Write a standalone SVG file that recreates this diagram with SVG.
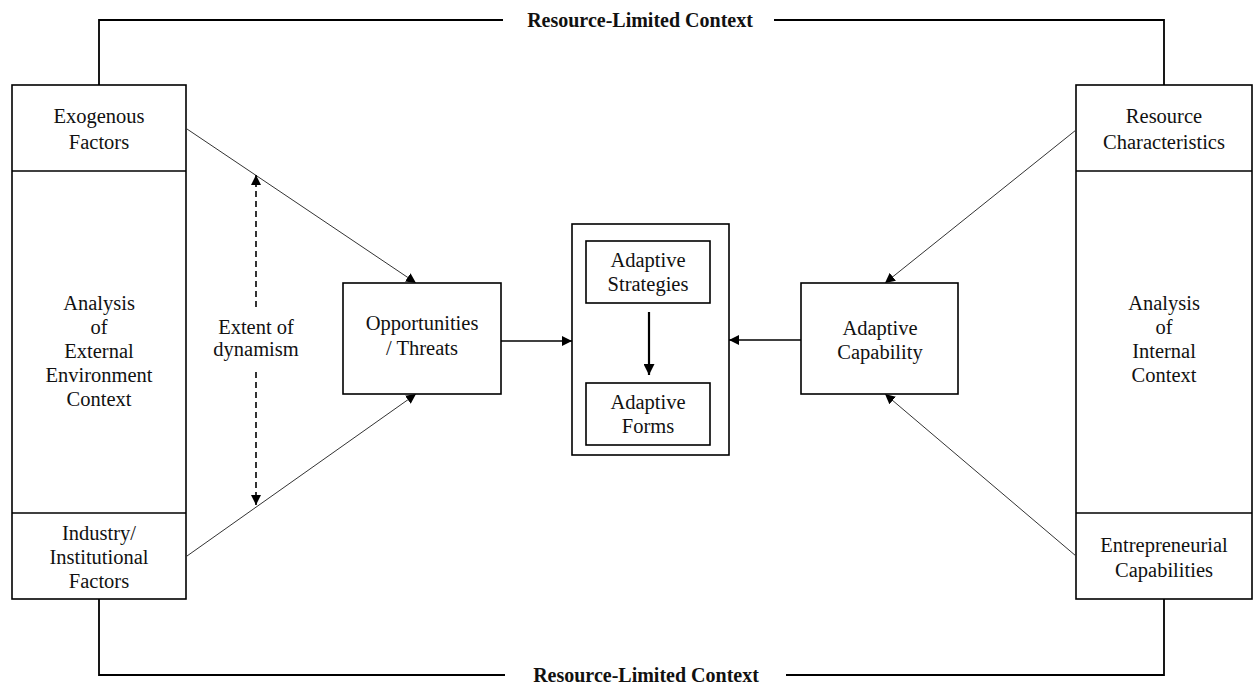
<svg xmlns="http://www.w3.org/2000/svg" width="1256" height="684" viewBox="0 0 1256 684">
  <style>
    .box { fill: #ffffff; stroke: #000000; stroke-width: 1.6; }
    .div { stroke: #000000; stroke-width: 1.6; fill: none; }
    .lbl { font-family: "Liberation Serif", "Times New Roman", serif; font-size: 20.5px; fill: #111111; text-anchor: middle; }
    .title { font-family: "Liberation Serif", "Times New Roman", serif; font-size: 20px; font-weight: bold; fill: #111111; text-anchor: middle; }
    .bracket { stroke: #000000; stroke-width: 1.8; fill: none; }
    .thin { stroke: #333333; stroke-width: 1; fill: none; }
    .flow { stroke: #000000; stroke-width: 1.5; fill: none; }
    .bold { stroke: #000000; stroke-width: 2.2; fill: none; }
    .dash { stroke: #000000; stroke-width: 1.6; fill: none; stroke-dasharray: 6 4; }
  </style>
  <defs>
    <marker id="arrow" viewBox="0 0 10 10" refX="10" refY="5" markerWidth="10" markerHeight="10" markerUnits="userSpaceOnUse" orient="auto">
      <path d="M0,0 L10,5 L0,10 z" fill="#000000"/>
    </marker>
    <marker id="arrowBig" viewBox="0 0 10 10" refX="10" refY="5" markerWidth="11" markerHeight="11" markerUnits="userSpaceOnUse" orient="auto">
      <path d="M0,0 L10,5 L0,10 z" fill="#000000"/>
    </marker>
  </defs>

  <!-- Resource-limited context brackets -->
  <g id="context-brackets">
    <path class="bracket" d="M99,85 V20 H503 M774,20 H1164 V85"/>
    <text class="title" x="640" y="27">Resource-Limited Context</text>
    <path class="bracket" d="M99,599 V675 H505 M786,675 H1164 V599"/>
    <text class="title" x="646" y="682">Resource-Limited Context</text>
  </g>

  <!-- External environment column -->
  <g id="external-column">
    <rect class="box" x="12" y="85" width="174" height="514"/>
    <line class="div" x1="12" y1="171" x2="186" y2="171"/>
    <line class="div" x1="12" y1="513" x2="186" y2="513"/>
  </g>
  <g id="exogenous-factors">
    <text class="lbl" x="99" y="123">Exogenous</text>
    <text class="lbl" x="99" y="149">Factors</text>
  </g>
  <g id="external-analysis">
    <text class="lbl" x="99" y="310">Analysis</text>
    <text class="lbl" x="99" y="334">of</text>
    <text class="lbl" x="99" y="358">External</text>
    <text class="lbl" x="99" y="382">Environment</text>
    <text class="lbl" x="99" y="406">Context</text>
  </g>
  <g id="industry-factors">
    <text class="lbl" x="99" y="540">Industry/</text>
    <text class="lbl" x="99" y="564">Institutional</text>
    <text class="lbl" x="99" y="588">Factors</text>
  </g>

  <!-- Internal context column -->
  <g id="internal-column">
    <rect class="box" x="1076" y="85" width="176" height="514"/>
    <line class="div" x1="1076" y1="171" x2="1252" y2="171"/>
    <line class="div" x1="1076" y1="513" x2="1252" y2="513"/>
  </g>
  <g id="resource-characteristics">
    <text class="lbl" x="1164" y="123">Resource</text>
    <text class="lbl" x="1164" y="149">Characteristics</text>
  </g>
  <g id="internal-analysis">
    <text class="lbl" x="1164" y="310">Analysis</text>
    <text class="lbl" x="1164" y="334">of</text>
    <text class="lbl" x="1164" y="358">Internal</text>
    <text class="lbl" x="1164" y="382">Context</text>
  </g>
  <g id="entrepreneurial-capabilities">
    <text class="lbl" x="1164" y="552">Entrepreneurial</text>
    <text class="lbl" x="1164" y="577">Capabilities</text>
  </g>

  <!-- Opportunities / Threats -->
  <g id="opportunities-threats">
    <rect class="box" x="343" y="283" width="158" height="111"/>
    <text class="lbl" x="422" y="330">Opportunities</text>
    <text class="lbl" x="422" y="355">/ Threats</text>
  </g>

  <!-- Adaptive response container -->
  <g id="adaptive-response">
    <rect class="box" x="572" y="224" width="157" height="231"/>
  </g>
  <g id="adaptive-strategies">
    <rect class="box" x="586" y="241" width="124" height="62"/>
    <text class="lbl" x="648" y="267">Adaptive</text>
    <text class="lbl" x="648" y="291">Strategies</text>
  </g>
  <g id="adaptive-forms">
    <rect class="box" x="586" y="383" width="124" height="62"/>
    <text class="lbl" x="648" y="409">Adaptive</text>
    <text class="lbl" x="648" y="433">Forms</text>
  </g>

  <!-- Adaptive Capability -->
  <g id="adaptive-capability">
    <rect class="box" x="801" y="283" width="157" height="111"/>
    <text class="lbl" x="880" y="335">Adaptive</text>
    <text class="lbl" x="880" y="359">Capability</text>
  </g>

  <!-- Dynamism label -->
  <g id="extent-of-dynamism">
    <text class="lbl" x="256" y="334">Extent of</text>
    <text class="lbl" x="256" y="356">dynamism</text>
  </g>

  <!-- Connectors -->
  <g id="connectors">
    <line class="thin" x1="187" y1="129" x2="416" y2="283" marker-end="url(#arrow)"/>
    <line class="thin" x1="187" y1="556" x2="416" y2="394" marker-end="url(#arrow)"/>
    <line class="thin" x1="1076" y1="130" x2="885" y2="283" marker-end="url(#arrow)"/>
    <line class="thin" x1="1076" y1="556" x2="885" y2="394" marker-end="url(#arrow)"/>
    <line class="flow" x1="501" y1="341" x2="572" y2="341" marker-end="url(#arrow)"/>
    <line class="flow" x1="801" y1="340" x2="729" y2="340" marker-end="url(#arrow)"/>
    <line class="bold" x1="649" y1="312" x2="649" y2="375" marker-end="url(#arrowBig)"/>
    <line class="dash" x1="256" y1="307" x2="256" y2="175" marker-end="url(#arrow)"/>
    <line class="dash" x1="256" y1="372" x2="256" y2="505" marker-end="url(#arrow)"/>
  </g>
</svg>
